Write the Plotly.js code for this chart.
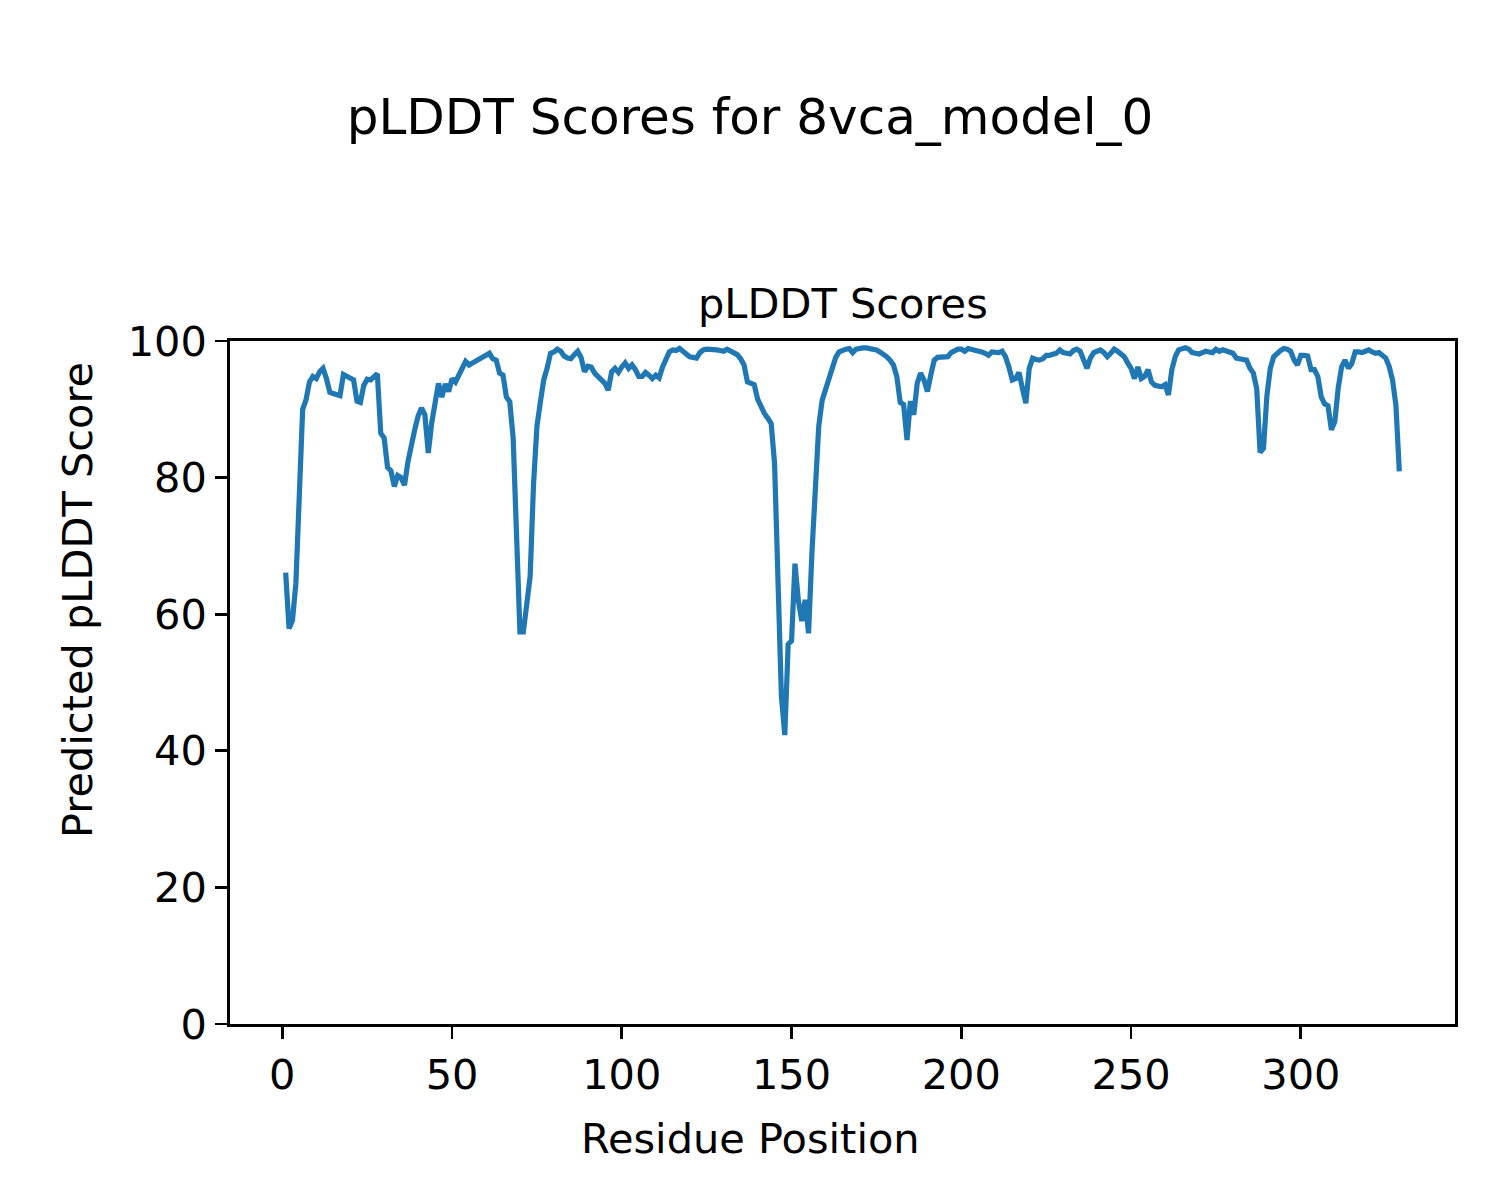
<!DOCTYPE html>
<html>
<head>
<meta charset="utf-8">
<script src="https://cdn.plot.ly/plotly-3.0.1.min.js"></script>
<style>html,body{margin:0;padding:0;background:#fff;}#chart{width:1500px;height:1200px;}</style>
</head>
<body>
<div id="chart"></div>
<script>
const chartTitle = "pLDDT Scores for 8vca_model_0";
const axesTitle = "pLDDT Scores";
const xLabel = "Residue Position";
const yLabel = "Predicted pLDDT Score";
const xTicks = [0, 50, 100, 150, 200, 250, 300];
const yTicks = [0, 20, 40, 60, 80, 100];

const plddt = [
  66.1, 57.9, 59.1, 64.5, 77.2, 90.0, 91.4, 94.0, 94.8, 94.5,
  95.5, 96.0, 94.5, 92.5, 92.3, 92.2, 92.0, 95.1, 94.8, 94.5,
  94.3, 91.2, 91.0, 93.5, 94.4, 94.3, 94.8, 95.2, 86.5, 85.8,
  81.5, 81.0, 78.7, 80.3, 80.0, 78.9, 82.3, 85.0, 87.0, 89.0,
  90.2, 89.2, 83.6, 88.0, 91.0, 93.8, 91.8, 93.7, 92.6, 94.5,
  94.0, 95.1, 96.0, 97.0, 96.5, 96.8, 97.0, 97.3, 97.6, 97.8,
  98.2, 97.4, 97.2, 95.3, 95.0, 91.8, 91.1, 85.8, 70.0, 57.4,
  57.4, 61.5, 65.5, 79.0, 87.5, 91.0, 94.3, 96.0, 98.2, 98.4,
  98.8, 98.5, 97.8, 97.5, 97.4, 98.0, 98.5, 97.6, 95.5, 96.3,
  96.2, 95.3, 94.8, 94.5, 93.8, 92.8, 95.5, 96.0, 95.4, 96.2,
  96.8, 96.0, 96.5, 95.8, 94.8, 94.8, 95.4, 95.0, 94.5, 95.0,
  94.6, 96.2, 97.2, 98.4, 98.7, 98.6, 98.9, 98.5, 98.2, 97.7,
  97.6, 97.5, 98.3, 98.7, 98.8, 98.8, 98.8, 98.7, 98.6, 98.5,
  98.8, 98.6, 98.3, 98.0, 97.4, 96.5, 94.0, 93.7, 93.6, 91.5,
  90.3, 89.4, 88.7, 87.9, 82.0, 64.0, 48.0, 42.3, 55.6, 56.1,
  67.4, 62.0, 59.0, 62.1, 57.2, 69.0, 80.0, 87.5, 91.3, 92.8,
  94.8, 96.2, 97.6, 98.4, 98.7, 98.8, 98.9, 98.3, 98.8, 99.0,
  99.0, 99.0, 98.9, 98.8, 98.7, 98.4, 98.1, 97.7, 97.2, 96.5,
  94.8, 91.0, 90.7, 85.5, 91.2, 89.2, 93.8, 95.3, 94.3, 92.6,
  95.0, 97.2, 97.6, 97.6, 97.7, 97.7, 98.3, 98.6, 98.8, 98.8,
  98.5, 98.9, 98.8, 98.7, 98.5, 98.4, 98.2, 97.9, 98.4, 98.3,
  98.3, 98.5, 97.7, 96.2, 94.3, 94.5, 95.4, 93.0, 90.9, 96.0,
  97.5, 97.3, 97.2, 97.4, 97.9, 97.9, 98.0, 98.2, 98.7, 98.3,
  98.2, 98.1, 98.6, 98.8, 98.5, 97.1, 96.0, 97.5, 98.3, 98.5,
  98.7, 98.3, 97.7, 98.2, 98.8, 98.5, 98.2, 97.7, 96.8, 96.0,
  94.5, 96.2, 94.5, 94.8, 95.8, 94.0, 93.5, 93.3, 93.3, 93.6,
  92.1, 95.8, 97.7, 98.7, 98.9, 99.0, 98.8, 98.3, 98.2, 98.1,
  98.3, 98.5, 98.4, 98.3, 98.8, 98.5, 98.7, 98.5, 98.3, 98.2,
  97.5, 97.3, 97.3, 97.2, 96.0, 95.3, 93.0, 83.7, 84.3, 92.0,
  96.0, 97.7, 98.2, 98.6, 98.9, 98.8, 98.5, 97.2, 96.5, 97.9,
  97.9, 97.8, 95.8, 95.8, 94.8, 91.8, 90.8, 90.5, 87.0, 88.2,
  93.1, 96.2, 97.2, 96.0, 96.7, 98.4, 98.4, 98.3, 98.5, 98.7,
  98.4, 98.2, 98.3, 97.9, 97.5, 96.3, 94.3, 90.6, 80.9
];
const residues = plddt.map((_, i) => i + 1);

const FONT = "DejaVu Sans, sans-serif";
const n = residues.length;
const span = residues[n - 1] - residues[0];
const xRange = [residues[0] - 0.05 * span, residues[n - 1] + 0.05 * span];

const trace = {
  x: residues, y: plddt, type: "scatter", mode: "lines",
  line: { color: "#1f77b4", width: 5.2 }, hoverinfo: "x+y", showlegend: false
};

const axisCommon = {
  showgrid: false, zeroline: false, showline: true, mirror: true,
  linecolor: "#000", linewidth: 2.8,
  ticks: "outside", ticklen: 12, tickwidth: 2.8, tickcolor: "#000",
  tickfont: { family: FONT, size: 41.5, color: "#000" }
};

const layout = {
  width: 1500, height: 1200,
  paper_bgcolor: "#fff", plot_bgcolor: "#fff",
  margin: { l: 230, r: 45, t: 341, b: 176, pad: 0 },
  title: {
    text: chartTitle, font: { family: FONT, size: 50, color: "#000" },
    x: 0.5, xref: "container", xanchor: "center",
    y: 1 - 116 / 1200, yref: "container", yanchor: "middle"
  },
  xaxis: Object.assign({}, axisCommon, {
    range: xRange, tickmode: "array", tickvals: xTicks, ticktext: xTicks.map(String)
  }),
  yaxis: Object.assign({}, axisCommon, {
    range: [0, 100], tickmode: "array", tickvals: yTicks, ticktext: yTicks.map(String)
  }),
  annotations: [
    { text: axesTitle, xref: "paper", yref: "paper", x: 0.5, y: 1 + (341 - 303) / 683,
      xanchor: "center", yanchor: "middle", showarrow: false,
      font: { family: FONT, size: 41.5, color: "#000" } },
    { text: xLabel, xref: "paper", yref: "paper", x: (750 - 230) / 1225, y: (1024 - 1138) / 683,
      xanchor: "center", yanchor: "middle", showarrow: false,
      font: { family: FONT, size: 41.5, color: "#000" } },
    { text: yLabel, xref: "paper", yref: "paper", x: (77 - 230) / 1225, y: (1024 - 600) / 683,
      xanchor: "center", yanchor: "middle", textangle: -90, showarrow: false,
      font: { family: FONT, size: 41.5, color: "#000" } }
  ]
};

Plotly.newPlot("chart", [trace], layout, { staticPlot: true, displayModeBar: false });
</script>
</body>
</html>
